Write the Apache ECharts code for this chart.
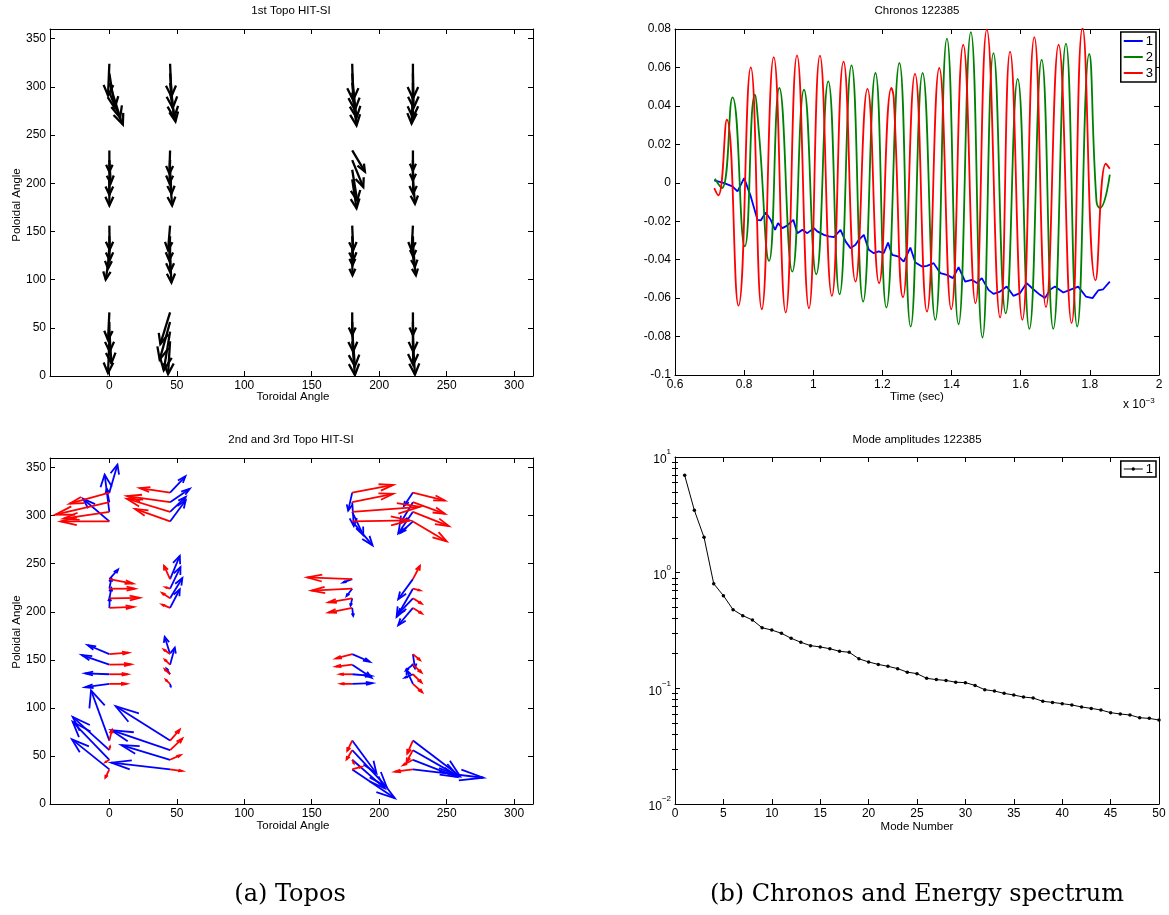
<!DOCTYPE html>
<html><head><meta charset="utf-8">
<script src="https://cdn.jsdelivr.net/npm/echarts@6/dist/echarts.min.js"></script>
<style>html,body{margin:0;padding:0;background:#fff}#c{width:1169px;height:915px}</style>
</head><body><div id="c"></div>
<script>
// ---------- tick labels ----------
const angleTicksX = [0, 50, 100, 150, 200, 250, 300];
const angleTicksY = [0, 50, 100, 150, 200, 250, 300, 350];
const timeTicks = [0.6, 0.8, 1, 1.2, 1.4, 1.6, 1.8, 2];
const chronoTicks = [-0.1, -0.08, -0.06, -0.04, -0.02, 0, 0.02, 0.04, 0.06, 0.08];
const modeTicks = [0, 5, 10, 15, 20, 25, 30, 35, 40, 45, 50];
const ampTicks = [0.01, 0.1, 1, 10];
const ampMinorTicks = [0.02,0.03,0.04,0.05,0.06,0.07,0.08,0.09,0.2,0.3,0.4,0.5,0.6,0.7,0.8,0.9,2,3,4,5,6,7,8,9];

// ---------- 1st topo (black quiver): [toroidal, poloidal, dTor, dPol] ----------
const topo1Arrows = [
  [0,324,-1,-33],[0,314,4,-36],[0,304,8,-36],[0,294,10,-33],
  [0,234,0,-22],[0,224,1,-24],[0,214,0,-26],[0,204,0,-27],
  [0,156,0.2,-25],[0,145,0.2,-25],[0,135,-1,-23.5],[0,125,-2.7,-25],
  [0,66,-1,-28.6],[0,56,0.2,-30.7],[0,46,1.5,-32.8],[0,36,-1,-33],
  [45,324,1,-34],[45,314,2,-36],[45,304,3,-36],[45,294,4,-30],
  [45,234,-0.5,-24],[45,224,-0.5,-24],[45,214,1,-25],[45,204,1.5,-27],
  [45,156,-1.5,-25.5],[45,145,-0.7,-25],[45,135,0,-27],[45,125,1,-28],
  [45,66,-7.2,-32.8],[45,56,-7.7,-39],[45,46,-4.7,-40],[45,36,-1.5,-34],
  [180,324,0.7,-38],[180,314,2,-38],[180,304,3.2,-36],[180,294,3.2,-34],
  [180,234,9.4,-22],[180,224,8.2,-28],[180,214,3.7,-32],[180,204,3.2,-30],
  [180,156,0.7,-25.5],[180,145,0.7,-25],[180,135,0.2,-20],[180,125,0.2,-20.4],
  [180,66,0,-23.5],[180,56,0.7,-30.7],[180,46,2,-36],[180,36,2,-35],
  [225,324,0,-36],[225,314,0.5,-36],[225,304,0,-36],[225,294,-1,-32],
  [225,234,0,-20.7],[225,224,0,-21],[225,214,0.2,-25],[225,204,1.5,-25.2],
  [225,156,-1,-25.5],[225,145,0.2,-21.4],[225,135,1.5,-21.7],[225,125,2.2,-20.4],
  [225,66,0,-23.5],[225,56,0.2,-30.7],[225,46,0.2,-34.5],[225,36,1.5,-34.5]
];

// ---------- 2nd topo (blue quiver) ----------
const topo2Arrows = [
  [0,324,6,29],[0,314,-2,14],[0,304,-3.5,38.6],[0,294,-19.6,23.6],
  [0,234,6.4,10],[0,224,1.5,11],[0,214,1.5,10.7],[0,204,0.3,10.4],
  [0,156,-16.1,9.4],[0,145,-20.5,10],[0,135,-18,1],[0,125,-18,-3.5],
  [0,66,-13.6,52.3],[0,56,-27.2,34.6],[0,46,-27.2,39.5],[0,36,-27.7,31.2],
  [45,324,11.4,17],[45,314,14.6,14],[45,304,11.6,15.5],[45,294,11.6,22],
  [45,234,7.2,24.2],[45,224,7.7,22.5],[45,214,9.1,21.1],[45,204,7.2,19.4],
  [45,156,-4,18],[45,145,3.5,17.7],[45,135,-2.7,5.9],[45,125,0.5,-2.7],
  [45,66,-40.3,35.7],[45,56,-43.5,20.8],[45,46,-36.1,15.2],[45,36,-43.5,7],
  [180,324,-3,-18.7],[180,314,1.2,-24.9],[180,304,8.2,-24.2],[180,294,15.1,-24.9],
  [180,234,-6.7,-3.5],[180,224,-4.2,-7.6],[180,214,-1.2,-7.6],[180,204,0.7,-8.3],
  [180,156,13.1,-8],[180,145,14.3,-13.5],[180,135,14.3,-1.7],[180,125,15.1,0.7],
  [180,66,18,-34.3],[180,56,25.5,-38.1],[180,46,24.2,-29.8],[180,36,31.6,-30.1],
  [225,324,-6.7,-13.9],[225,314,-9.6,-22.5],[225,304,-10.9,-22.5],[225,294,-9.1,-11.8],
  [225,234,-10.9,-21],[225,224,-12.1,-29.4],[225,214,-11.4,-17],[225,204,-10.9,-18],
  [225,156,1.5,-14.9],[225,145,-5.2,-5.9],[225,135,-5.9,-3.5],[225,125,-4.7,14.2],
  [225,66,34.9,-37.1],[225,56,33.6,-27],[225,46,32.4,-17.7],[225,36,52.2,-8.7]
];

// ---------- 3rd topo (red quiver) ----------
const topo3Arrows = [
  [0,324,-29.5,-11.5],[0,314,-40,-13],[0,304,-34,-7],[0,294,-36,0],
  [0,234,17.5,-4.7],[0,224,19,0],[0,214,22.5,0.5],[0,204,18,1],
  [0,156,14.1,1.4],[0,145,16.1,0.3],[0,135,13.6,0],[0,125,12.9,0],
  [0,66,2,11.4],[0,56,0.5,4],[0,46,-3,-2.5],[0,36,-3,-8.7],
  [45,324,-22.5,4.7],[45,314,-32,6.4],[45,304,-32,13.6],[45,294,-26,13],
  [45,234,-4.5,13.9],[45,224,-3.2,1.4],[45,214,-5.9,5.5],[45,204,-5.9,3.5],
  [45,156,-4.7,4.8],[45,145,-4,5.2],[45,135,-4,5.2],[45,125,-3.2,4.2],
  [45,66,7.2,11.4],[45,56,9.1,12.1],[45,46,7.7,4.8],[45,36,9.1,-1.7],
  [180,324,30.4,8],[180,314,30.4,8.7],[180,304,50.2,5.2],[180,294,42.8,1],
  [180,234,-33.4,1.7],[180,224,-30.2,-2],[180,214,-17.6,-4.2],[180,204,-17.6,-4.8],
  [180,156,-12.1,-4.5],[180,145,-12.1,-2],[180,135,-9.1,0],[180,125,-8.4,0],
  [180,66,-3.7,-10.7],[180,56,-4.2,-9.7],[180,46,1.2,-3.8],[180,36,6.9,2.8],
  [225,324,23.7,-8.3],[225,314,23.7,-12.1],[225,304,26.7,-14.9],[225,294,25,-20.8],
  [225,234,5.2,13.9],[225,224,5.2,-1.7],[225,214,6.4,-5.5],[225,204,6.7,-5.9],
  [225,156,5.2,-6.2],[225,145,6.4,-8.3],[225,135,6.4,-8.7],[225,125,6.9,-8.7],
  [225,66,-4.2,-13.5],[225,56,-4.7,-12],[225,46,-7.2,-5.5],[225,36,-13.4,-2.4]
];

// ---------- chronos (time in units of 1e-3 s) ----------
const chrono1Time = [0.7135,0.7423,0.7663,0.7808,0.8,0.8192,0.8385,0.848,0.8625,0.8769,0.8894,0.898,0.9106,0.9231,0.9423,0.9538,0.9683,0.9827,1.0019,1.0115,1.0308,1.0452,1.0596,1.0788,1.0933,1.1077,1.1221,1.1317,1.1462,1.1606,1.175,1.1894,1.2038,1.2163,1.2279,1.2471,1.2615,1.2808,1.2952,1.3144,1.3288,1.3481,1.3673,1.3865,1.4038,1.4202,1.4394,1.4587,1.4731,1.4875,1.5067,1.5212,1.5404,1.5596,1.5788,1.5981,1.6173,1.6365,1.6558,1.6702,1.6846,1.699,1.7231,1.7423,1.7663,1.7885,1.8077,1.824,1.8385,1.8577];
const chrono1Value = [0.0012,-0.0002,-0.0019,-0.0045,0.0024,-0.0071,-0.0193,-0.0196,-0.0154,-0.0193,-0.0245,-0.021,-0.0236,-0.0224,-0.0193,-0.0262,-0.0245,-0.0262,-0.0236,-0.0253,-0.0271,-0.0279,-0.0283,-0.0245,-0.0305,-0.034,-0.0323,-0.0297,-0.0271,-0.0349,-0.0366,-0.0357,-0.0366,-0.0311,-0.0375,-0.0384,-0.041,-0.0337,-0.0415,-0.0436,-0.0432,-0.0418,-0.047,-0.0479,-0.0496,-0.0439,-0.0514,-0.0505,-0.0522,-0.0496,-0.0557,-0.0578,-0.0566,-0.054,-0.0588,-0.0574,-0.0522,-0.0554,-0.0583,-0.06,-0.0557,-0.054,-0.0571,-0.0557,-0.054,-0.0592,-0.06,-0.056,-0.0554,-0.0514];
const chrono2Time = [0.7154,0.7356,0.7663,0.8019,0.8308,0.8433,0.8721,0.9019,0.9394,0.9731,1.0087,1.0433,1.076,1.1106,1.1442,1.1798,1.2115,1.249,1.2817,1.3163,1.3529,1.3865,1.4202,1.4558,1.4894,1.5212,1.5567,1.5913,1.625,1.6606,1.6942,1.7308,1.7635,1.7981,1.8192,1.8288,1.8577];
const chrono2Value = [0.0021,-0.0028,0.0444,-0.0331,0.0458,0.025,-0.0406,0.0493,-0.0462,0.0484,-0.0476,0.0528,-0.058,0.0611,-0.0618,0.0571,-0.0649,0.0623,-0.0748,0.0571,-0.0713,0.075,-0.0736,0.0784,-0.0805,0.0675,-0.0679,0.0541,-0.076,0.064,-0.076,0.0724,-0.0748,0.067,-0.0097,-0.0132,0.0042];
const chrono3Time = [0.7135,0.725,0.75,0.7837,0.8192,0.851,0.8856,0.9202,0.9529,0.9875,1.0192,1.0538,1.0875,1.1221,1.1567,1.1904,1.226,1.2327,1.2596,1.2942,1.3288,1.3644,1.399,1.4337,1.4692,1.5019,1.5404,1.5692,1.6048,1.6394,1.6731,1.7096,1.7471,1.7788,1.8163,1.8462,1.8577];
const chrono3Value = [-0.0028,-0.0066,0.0328,-0.0639,0.06,-0.0658,0.0654,-0.0675,0.0663,-0.0653,0.0661,-0.0588,0.063,-0.0514,0.0488,-0.0522,0.0493,0.0441,-0.0595,0.0567,-0.067,0.0597,-0.0658,0.0718,-0.0627,0.0797,-0.0701,0.0682,-0.0713,0.0758,-0.0647,0.0718,-0.073,0.0805,-0.0508,0.0099,0.0073];

// ---------- mode amplitudes ----------
const modeNumbers = [1,2,3,4,5,6,7,8,9,10,11,12,13,14,15,16,17,18,19,20,21,22,23,24,25,26,27,28,29,30,31,32,33,34,35,36,37,38,39,40,41,42,43,44,45,46,47,48,49,50];
const modeAmps = [6.94,3.46,2.02,0.803,0.633,0.479,0.425,0.39,0.334,0.319,0.299,0.271,0.25,0.234,0.228,0.22,0.209,0.205,0.18,0.169,0.161,0.155,0.148,0.138,0.134,0.122,0.119,0.117,0.113,0.112,0.106,0.0973,0.0948,0.0905,0.0875,0.0841,0.0825,0.0772,0.0756,0.0737,0.0718,0.069,0.0671,0.065,0.0616,0.06,0.0588,0.0557,0.055,0.0532];

// ---------- layout helpers ----------
const FONT = 'Liberation Sans';
const BLACK = '#000';
function tick(vals, len) {
  return { show: true, inside: true, length: len || 5, customValues: vals, lineStyle: { color: BLACK, width: 1 } };
}
function line(show) { return { show: show, onZero: false, lineStyle: { color: BLACK, width: 1 } }; }
function lab(vals, extra) {
  return Object.assign({ show: true, customValues: vals, color: BLACK, fontFamily: FONT, fontSize: 12, margin: 4, hideOverlap: false }, extra || {});
}
function xPair(g, min, max, vals) {
  return [
    { type: 'value', gridIndex: g, position: 'bottom', min: min, max: max, axisLine: line(true), axisTick: tick(vals), axisLabel: lab(vals), splitLine: { show: false } },
    { type: 'value', gridIndex: g, position: 'top', min: min, max: max, axisLine: line(true), axisTick: tick(vals), axisLabel: { show: false }, splitLine: { show: false } }
  ];
}
function yPair(g, min, max, vals, type, labExtra) {
  return [
    { type: type || 'value', gridIndex: g, position: 'left', min: min, max: max, axisLine: line(true), axisTick: tick(vals), axisLabel: lab(vals, labExtra), splitLine: { show: false } },
    { type: type || 'value', gridIndex: g, position: 'right', min: min, max: max, axisLine: line(true), axisTick: tick(vals), axisLabel: { show: false }, splitLine: { show: false } }
  ];
}

function arrowRender(color, lw) {
  return function (params, api) {
    const x = api.value(0), y = api.value(1), u = api.value(2), v = api.value(3);
    const a = 0.33, b = 0.33;
    const p0 = api.coord([x, y]);
    const p1 = api.coord([x + u, y + v]);
    const w1 = api.coord([x + u - a * (u + b * v), y + v - a * (v - b * u)]);
    const w2 = api.coord([x + u - a * (u - b * v), y + v - a * (v + b * u)]);
    const st = { stroke: color, lineWidth: lw, fill: null };
    return {
      type: 'group',
      children: [
        { type: 'line', shape: { x1: p0[0], y1: p0[1], x2: p1[0], y2: p1[1] }, style: st },
        { type: 'polyline', shape: { points: [w1, p1, w2] }, style: st }
      ]
    };
  };
}
function quiver(name, data, color, lw, xi, yi) {
  return { type: 'custom', name: name, xAxisIndex: xi, yAxisIndex: yi, clip: true, data: data,
    encode: { x: 0, y: 1 }, renderItem: arrowRender(color, lw), silent: true, z: 3 };
}
function zip(a, b) { return a.map((v, i) => [v, b[i]]); }

const xAxes = [].concat(
  xPair(0, -44, 314, angleTicksX),
  xPair(1, -44, 314, angleTicksX),
  xPair(2, 0.6, 2, timeTicks),
  xPair(3, 0, 50, modeTicks)
);
const supFmt = function (v) {
  const e = Math.round(Math.log10(v));
  return '{b|10}{s|' + (e < 0 ? '\u2212' + (-e) : String(e)) + '}';
};
const yAxes = [].concat(
  yPair(0, 0, 360, angleTicksY),
  yPair(1, 0, 360, angleTicksY),
  yPair(2, -0.1, 0.08, chronoTicks),
  yPair(3, 0.01, 10, ampTicks, 'log', {
    formatter: supFmt,
    rich: {
      b: { fontFamily: FONT, fontSize: 12, color: BLACK, verticalAlign: 'bottom', lineHeight: 18 },
      s: { fontFamily: FONT, fontSize: 8, color: BLACK, verticalAlign: 'top', lineHeight: 18 }
    }
  }),
  [
    { type: 'log', gridIndex: 3, position: 'left', min: 0.01, max: 10, axisLine: { show: false }, axisTick: tick(ampMinorTicks, 3), axisLabel: { show: false }, splitLine: { show: false } },
    { type: 'log', gridIndex: 3, position: 'right', min: 0.01, max: 10, axisLine: { show: false }, axisTick: tick(ampMinorTicks, 3), axisLabel: { show: false }, splitLine: { show: false } }
  ]
);

function txt(text, x, y, size, extra) {
  return Object.assign({
    type: 'text', x: x, y: y, silent: true,
    style: { text: text, fontFamily: FONT, fontSize: size || 11.5, fill: BLACK, align: 'center', verticalAlign: 'middle' }
  }, extra || {});
}

// legend icon: short line with a dot in the middle (20 x 14 box)
const lineDotIcon = 'path://M0,0L0.01,0M0,14L0.01,14M0,6.4L20,6.4L20,7.6L0,7.6ZM11.8,7A1.8,1.8,0,1,1,8.2,7A1.8,1.8,0,1,1,11.8,7Z';

const option = {
  animation: false,
  backgroundColor: '#fff',
  grid: [
    { left: 50, top: 29, width: 483, height: 347 },
    { left: 50, top: 458, width: 483, height: 346 },
    { left: 675, top: 29, width: 484, height: 346 },
    { left: 675, top: 457, width: 484, height: 347 }
  ],
  xAxis: xAxes,
  yAxis: yAxes,
  legend: [
    { data: ['1', '2', '3'], orient: 'vertical', right: 13, top: 32, align: 'left', selectedMode: false,
      icon: 'rect', itemWidth: 19, itemHeight: 2,
      backgroundColor: '#fff', borderColor: BLACK, borderWidth: 1.5, padding: [2, 3, 2, 3], itemGap: 2,
      textStyle: { fontFamily: FONT, fontSize: 13, color: BLACK, lineHeight: 14, padding: [0, 0, 0, -2] } },
    { data: ['amp'], orient: 'vertical', right: 13, top: 461, align: 'left', selectedMode: false,
      icon: lineDotIcon, itemWidth: 19, itemHeight: 14,
      formatter: function () { return '1'; },
      backgroundColor: '#fff', borderColor: BLACK, borderWidth: 1.5, padding: [1, 3, 1, 3],
      textStyle: { fontFamily: FONT, fontSize: 13, color: BLACK, lineHeight: 14, padding: [0, 0, 0, -2] } }
  ],
  series: [
    quiver('topo1', topo1Arrows, '#000', 2.3, 0, 0),
    quiver('topo2', topo2Arrows, '#0000ff', 1.8, 2, 2),
    quiver('topo3', topo3Arrows, '#ff0000', 1.8, 2, 2),
    { type: 'line', name: '1', xAxisIndex: 4, yAxisIndex: 4, data: zip(chrono1Time, chrono1Value), symbol: 'none', smooth: false,
      lineStyle: { color: '#0000ff', width: 1.8 }, itemStyle: { color: '#0000ff' } },
    { type: 'line', name: '2', xAxisIndex: 4, yAxisIndex: 4, data: zip(chrono2Time, chrono2Value), symbol: 'none', smooth: 0.5,
      lineStyle: { color: '#008000', width: 1.8 }, itemStyle: { color: '#008000' } },
    { type: 'line', name: '3', xAxisIndex: 4, yAxisIndex: 4, data: zip(chrono3Time, chrono3Value), symbol: 'none', smooth: 0.5,
      lineStyle: { color: '#ff0000', width: 1.8 }, itemStyle: { color: '#ff0000' } },
    { type: 'line', name: 'amp', xAxisIndex: 6, yAxisIndex: 6, data: zip(modeNumbers, modeAmps), symbol: 'circle', symbolSize: 3.5,
      lineStyle: { color: BLACK, width: 1 }, itemStyle: { color: BLACK } }
  ],
  graphic: [
    txt('1st Topo HIT-SI', 291, 11),
    txt('2nd and 3rd Topo HIT-SI', 291, 440),
    txt('Chronos 122385', 917, 11),
    txt('Mode amplitudes 122385', 917, 440),
    txt('Toroidal Angle', 293, 397),
    txt('Toroidal Angle', 293, 826),
    txt('Poloidal Angle', 17, 205, 11.5, { rotation: Math.PI / 2 }),
    txt('Poloidal Angle', 17, 632, 11.5, { rotation: Math.PI / 2 }),
    txt('Time (sec)', 917, 397),
    txt('Mode Number', 917, 827),
    { type: 'text', x: 1123, y: 405, silent: true,
      style: { text: 'x 10{s|\u22123}', fontFamily: FONT, fontSize: 12, fill: BLACK, verticalAlign: 'middle',
        rich: { s: { fontFamily: FONT, fontSize: 8, fill: BLACK, verticalAlign: 'top', lineHeight: 16 } } } },
    { type: 'text', x: 290, y: 895, silent: true,
      style: { text: '(a) Topos', fontFamily: 'DejaVu Serif', fontSize: 24, fill: BLACK, align: 'center', verticalAlign: 'middle' } },
    { type: 'text', x: 917, y: 895, silent: true,
      style: { text: '(b) Chronos and Energy spectrum', fontFamily: 'DejaVu Serif', fontSize: 24, fill: BLACK, align: 'center', verticalAlign: 'middle' } }
  ]
};
const chart = echarts.init(document.getElementById('c'), null, { renderer: 'canvas' });
chart.setOption(option);
</script>
</body></html>
